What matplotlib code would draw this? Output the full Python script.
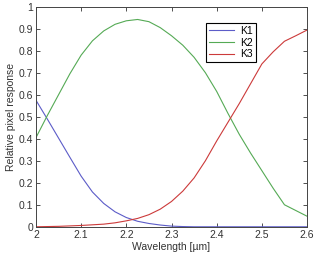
import matplotlib
matplotlib.use('Agg')
import matplotlib.pyplot as plt

plt.rcParams['font.family'] = 'Liberation Sans'

# Wavelength samples [um]
wavelength = [2.000, 2.025, 2.050, 2.075, 2.100, 2.125, 2.150, 2.175, 2.200,
              2.225, 2.250, 2.275, 2.300, 2.325, 2.350, 2.375, 2.400, 2.425,
              2.450, 2.475, 2.500, 2.525, 2.550, 2.575, 2.600]

# Relative responses
k1 = [0.575, 0.49, 0.403, 0.316, 0.23, 0.158, 0.106, 0.068, 0.042,
      0.025, 0.015, 0.008, 0.003, 0.001, 0.0, 0.0, 0.0, 0.0,
      0.0, 0.0, 0.0, 0.0, 0.0, 0.0, 0.0]
k2 = [0.405, 0.505, 0.60, 0.695, 0.78, 0.845, 0.89, 0.92, 0.936,
      0.942, 0.932, 0.905, 0.868, 0.825, 0.77, 0.70, 0.615, 0.515,
      0.42, 0.335, 0.255, 0.175, 0.1, 0.074, 0.048]
k3 = [0.0, 0.001, 0.002, 0.004, 0.006, 0.009, 0.012, 0.018, 0.027,
      0.038, 0.055, 0.08, 0.115, 0.162, 0.222, 0.3, 0.39, 0.475,
      0.56, 0.65, 0.74, 0.795, 0.843, 0.868, 0.894]

labels = ['K1', 'K2', 'K3']
colors = ['#5c5cc8', '#55aa55', '#cc3a3a']

fig = plt.figure(figsize=(3.27, 2.58), dpi=100)
ax = fig.add_axes([0.110, 0.121, 0.829, 0.853])

for y, lab, c in zip([k1, k2, k3], labels, colors):
    ax.plot(wavelength, y, color=c, lw=0.8, label=lab)

ax.set_xlim(2.0, 2.6)
ax.set_ylim(0, 1)
ax.set_xticks([2.0, 2.1, 2.2, 2.3, 2.4, 2.5, 2.6])
ax.set_xticklabels(['2', '2.1', '2.2', '2.3', '2.4', '2.5', '2.6'])
ax.set_yticks([0, 0.1, 0.2, 0.3, 0.4, 0.5, 0.6, 0.7, 0.8, 0.9, 1])
ax.set_yticklabels(['0', '0.1', '0.2', '0.3', '0.4', '0.5', '0.6', '0.7', '0.8', '0.9', '1'])
ax.tick_params(direction='in', top=True, right=True, length=3, width=0.6,
               labelsize=7.5, colors='#333333', pad=2)
for s in ax.spines.values():
    s.set_linewidth(0.7)
    s.set_color('#444444')

ax.set_xlabel('Wavelength [\u00b5m]', fontsize=7.5, color='#333333', labelpad=2)
ax.set_ylabel('Relative pixel response', fontsize=7.5, color='#333333', labelpad=2)

leg = ax.legend(loc='upper right', bbox_to_anchor=(0.83, 0.95), fontsize=7.5,
                frameon=True, fancybox=False, edgecolor='black', framealpha=1,
                handlelength=2.4, borderpad=0.3, labelspacing=0.15, handletextpad=0.6)
leg.get_frame().set_linewidth(0.8)

fig.savefig('out.png', dpi=100)
